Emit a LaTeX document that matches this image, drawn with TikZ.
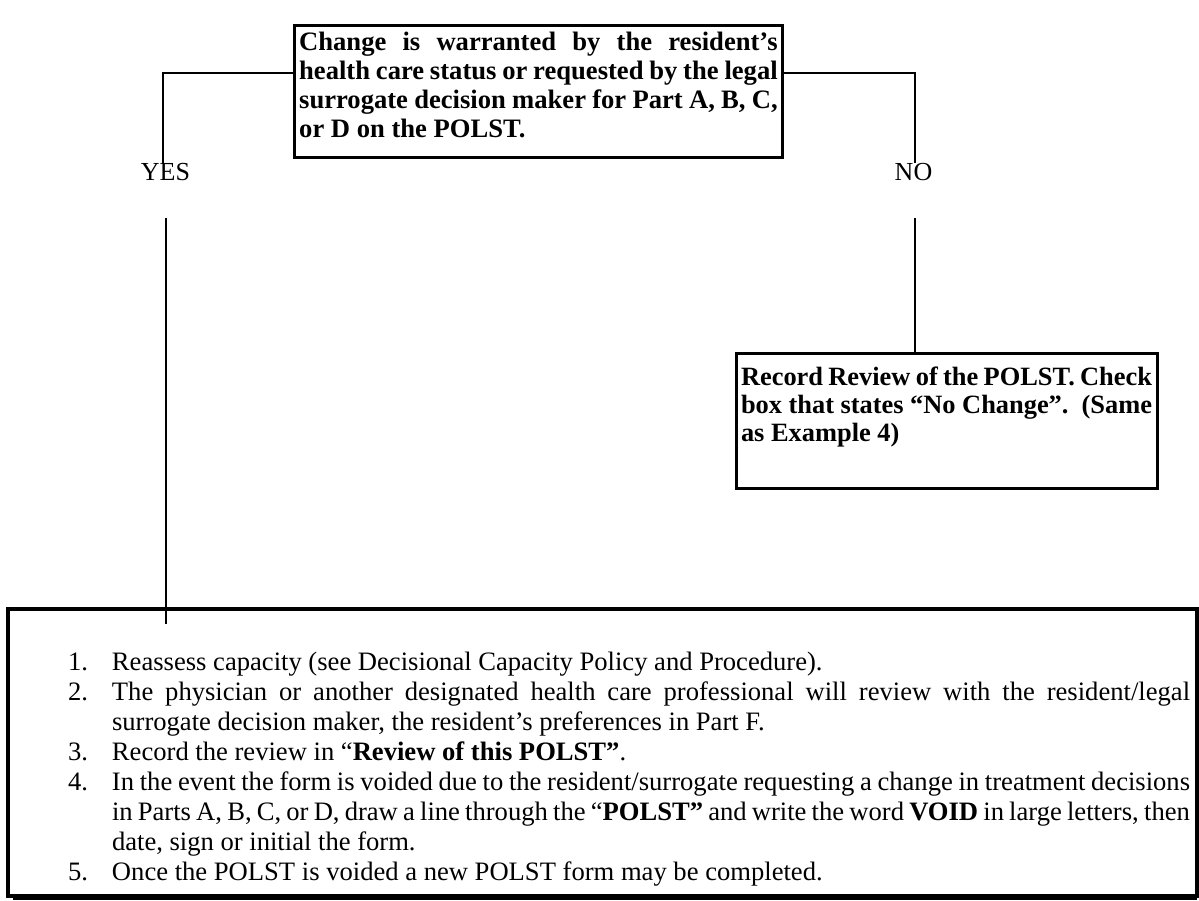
\documentclass[tikz,border=0pt]{standalone}
\usepackage{fontspec}
\setmainfont{Liberation Serif}
\hfuzz=6pt
% one numbered entry of the action list
\newcommand\polstitem[1]{\noindent\llap{\makebox[22pt][l]{#1}}}
\begin{document}
\begin{tikzpicture}[x=0.5pt,y=-0.5pt,
  every node/.style={inner sep=0pt, outer sep=0pt},
  conn/.style={line width=0.85pt},
  boxed/.style={draw, line width=1.5pt, anchor=north west, inner ysep=0pt, align=justify},
  boldtext/.style={font=\fontsize{13.3}{14.5}\selectfont\bfseries},
  lbl/.style={font=\fontsize{13}{15}\selectfont, anchor=base}]
\useasboundingbox (0,0) rectangle (1199,900);

% decision box
\node[boxed, boldtext, text width=239.25pt, inner xsep=2.6pt,
      text height=12.5pt, text depth=53.5pt] (top) at (294,25)
  {Change is warranted by the resident’s\linebreak
   health care status or requested by the legal\linebreak
   surrogate decision maker for Part A, B, C,\linebreak
   or D on the POLST.};

% branch labels
\node[lbl] (yes) at (165.5,180) {YES};
\node[lbl] (no) at (913.5,180) {NO};

% outcome for NO
\node[boxed, font=\fontsize{13.2}{14}\selectfont\bfseries, text width=205.5pt, inner xsep=2.5pt,
      text height=16pt, text depth=51.5pt] (rec) at (736,353)
  {Record Review of the POLST. Check\linebreak
   box that states “No Change”.\ \ (Same\linebreak
   as Example 4)};

% outcome for YES
\node[boxed, line width=1.6pt, font=\fontsize{13.3}{15}\selectfont, text width=587.5pt, inner xsep=3.5pt,
      text height=30.5pt, text depth=113pt] (list) at (8,609)
  {\leftskip=48.5pt\parindent=0pt\parskip=0pt%
   \polstitem{1.}Reassess capacity (see Decisional Capacity Policy and Procedure).\par
   \polstitem{2.}The physician or another designated health care professional will review with the resident/legal\linebreak
   surrogate decision maker, the resident’s preferences in Part F.\par
   \polstitem{3.}Record the review in “\textbf{Review of this POLST”}.\par
   \polstitem{4.}In the event the form is voided due to the resident/surrogate requesting a change in treatment decisions\linebreak
   in Parts A, B, C, or D, draw a line through the “\textbf{POLST”} and write the word \textbf{VOID} in large letters, then\linebreak
   date, sign or initial the form.\par
   \polstitem{5.}Once the POLST is voided a new POLST form may be completed.\par};
\draw[line width=1.4pt] ([xshift=2.5pt,yshift=-1.4pt]list.south west) -- ([yshift=-1.4pt]list.south east);

% connectors
\coordinate (yesTop) at (163,73);
\coordinate (noTop) at (915,73);
\coordinate (yesLow) at (166,218);
\coordinate (yesEnd) at (166,624);
\coordinate (noLow) at (915,218);

\draw[conn] (top.west |- yesTop) -- (yesTop) -- (yesTop |- yes.north);
\draw[conn] (top.east |- noTop) -- (noTop) -- (noTop |- no.north);
\draw[conn] (yesLow) -- (yesEnd);
\draw[conn] (noLow) -- (noLow |- rec.north);
\end{tikzpicture}
\end{document}
